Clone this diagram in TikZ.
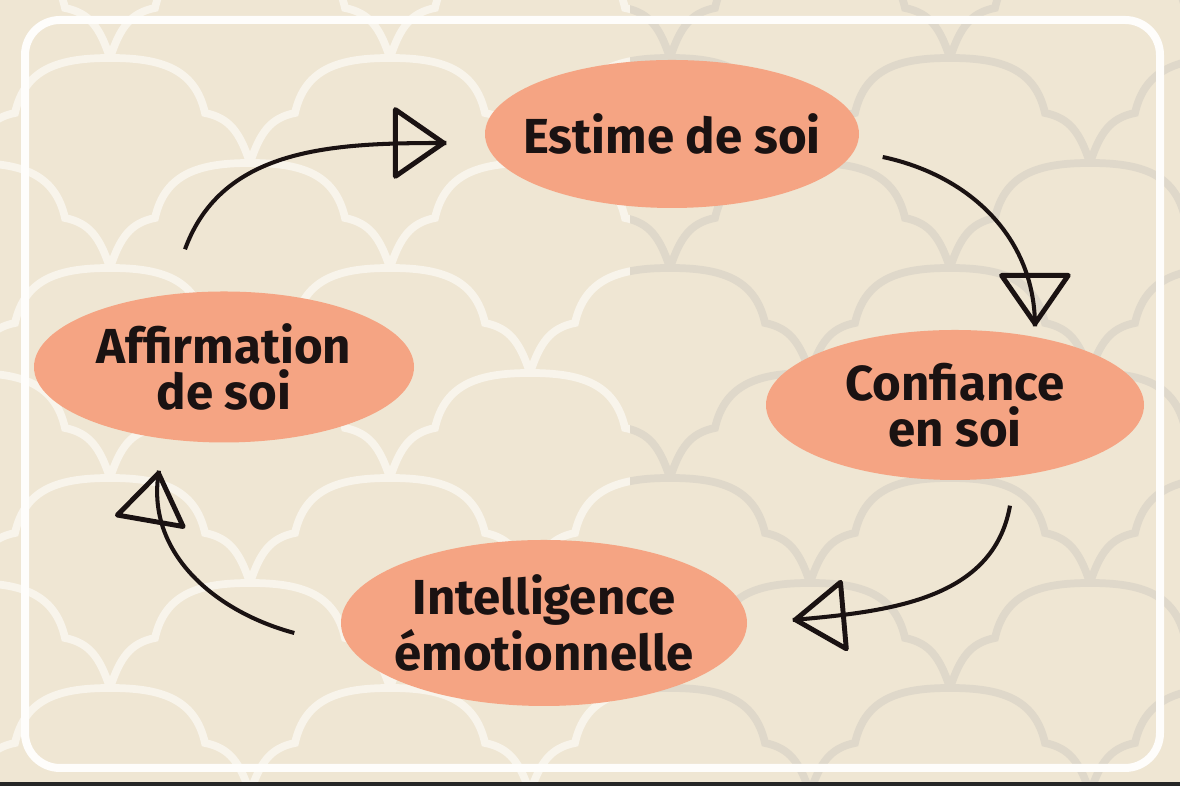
\documentclass[tikz,border=0pt]{standalone}
\usepackage{fontspec}
\setmainfont{Fira Sans}
\usepackage{tikz}
\usetikzlibrary{shapes.geometric}
\usetikzlibrary{arrows.meta}
\usetikzlibrary{decorations.markings}

\definecolor{fond}{HTML}{EFE6D3}
\definecolor{saumon}{HTML}{F5A483}
\definecolor{encre}{HTML}{1A1212}
\definecolor{clair}{HTML}{F8F4EB}
\definecolor{gris}{HTML}{DFD8CA}

\newcommand{\ecailles}[1]{%
	\foreach \j in {-1,...,7} \foreach \k in {-1,...,4} {
		\pgfmathsetmacro{\xs}{1.1+1.4*mod(\j+2,2)+2.8*\k}
		\pgfmathsetmacro{\ys}{7.28-1.05*\j}
		\draw[ecaille, #1, shift={(\xs,\ys)}] (-1.4,-1.05) .. controls (-1.3,-0.75) and (-1.2,-0.6) .. (-0.95,-0.55)
			.. controls (-0.85,-0.1) and (-0.5,0) .. (0,0) .. controls (0.5,0) and (0.85,-0.1) .. (0.95,-0.55)
			.. controls (1.2,-0.6) and (1.3,-0.75) .. (1.4,-1.05);
	}}

\begin{document}
\begin{tikzpicture}[>={Triangle[open,round,length=5.5mm,width=7.5mm,line width=1.4pt]}]
	\tikzset{ecaille/.style={line width=2.2pt, line cap=round}}
	\tikzset{bulle/.style={ellipse, fill=saumon, text=encre, align=center, inner sep=-1cm,
		font=\bfseries\fontsize{14}{13}\selectfont}}
	\tikzset{fleche/.style={draw=encre, line width=1.15pt,
		postaction={decorate, decoration={markings, mark=at position 0.999 with {\arrow[encre]{>}}}}}}
	\pgfmathsetmacro{\W}{11.8};
	\pgfmathsetmacro{\H}{7.86};
	\useasboundingbox (0,0) rectangle (\W,\H);
	\fill[fond] (0,0) rectangle (\W,\H);
	\begin{scope}
		\clip (0,0) rectangle (6.3,\H);
		\ecailles{clair}
	\end{scope}
	\begin{scope}
		\clip (6.3,0) rectangle (\W,\H);
		\ecailles{gris}
	\end{scope}
	\draw[white!92!fond, line width=0.08cm, rounded corners=0.35cm] (0.25,0.18) rectangle (11.6,7.66);
	\fill[black!85] (0,0) rectangle (\W,0.035);
	\node[bulle, minimum width=3.74cm, minimum height=1.48cm] (estime) at (6.72,6.52) {Estime de soi};
	\node[bulle, minimum width=3.78cm, minimum height=1.5cm] (confiance) at (9.55,3.81) {Confiance\\en soi};
	\node[bulle, minimum width=4.06cm, minimum height=1.66cm] (intel) at (5.44,1.63) {Intelligence\\émotionnelle};
	\node[bulle, minimum width=3.8cm, minimum height=1.51cm] (affirm) at (2.24,4.19) {Affirmation\\de soi};
	\draw[fleche] ([shift={(-0.39,0.415)}]affirm.north) to[out=70,in=180] ([shift={(-0.38,-0.09)}]estime.west);
	\draw[fleche] ([shift={(0.23,-0.23)}]estime.east) to[out=-12,in=90] ([shift={(0.8,0.03)}]confiance.north);
	\draw[fleche] ([shift={(0.55,-0.25)}]confiance.south) to[out=-100,in=5] ([shift={(0.45,0.03)}]intel.east);
	\draw[fleche] ([shift={(-0.46,-0.1)}]intel.west) to[out=165,in=-100] ([shift={(-0.65,-0.275)}]affirm.south);
\end{tikzpicture}
\end{document}
